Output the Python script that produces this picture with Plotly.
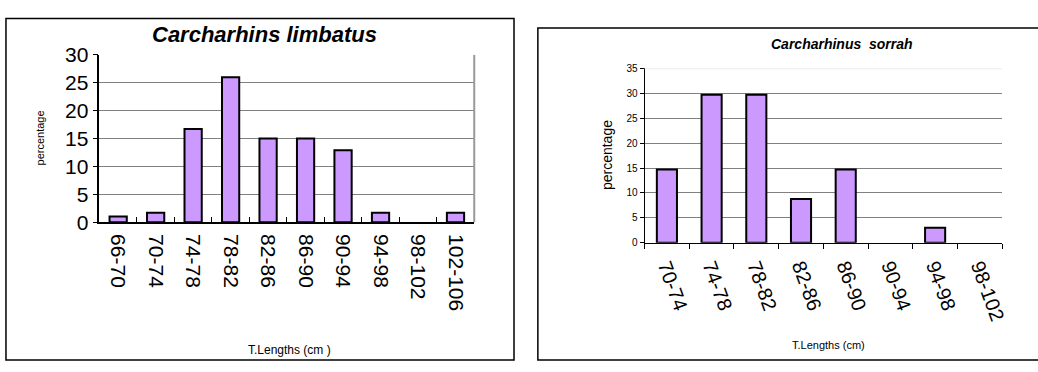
import plotly.graph_objects as go

# Length-frequency distributions (percentage per total-length class)
limbatus_classes = ["66-70", "70-74", "74-78", "78-82", "82-86",
                    "86-90", "90-94", "94-98", "98-102", "102-106"]
limbatus_pct = [1.0, 1.7, 16.7, 26.0, 15.0, 15.0, 12.9, 1.7, 0.0, 1.7]

sorrah_classes = ["70-74", "74-78", "78-82", "82-86",
                  "86-90", "90-94", "94-98", "98-102"]
sorrah_pct = [14.7, 29.7, 29.7, 8.8, 14.7, 0.0, 3.0, 0.0]

W, H = 1038, 372
FONT = "Liberation Sans, Arial, sans-serif"
BAR_FILL = "#CC99FF"


def px(x):
    return x / W


def py(y):
    return 1 - y / H


def outline_widths(values, w=2):
    # empty classes get no outline so no stray line sits on the axis
    return [w if v > 0 else 0 for v in values]


fig = go.Figure()

fig.add_trace(go.Bar(
    x=limbatus_classes, y=limbatus_pct, xaxis="x", yaxis="y",
    marker=dict(color=BAR_FILL,
                line=dict(color="black", width=outline_widths(limbatus_pct))),
    width=0.46, showlegend=False, hoverinfo="x+y",
))
fig.add_trace(go.Bar(
    x=sorrah_classes, y=sorrah_pct, xaxis="x2", yaxis="y2",
    marker=dict(color=BAR_FILL,
                line=dict(color="black", width=outline_widths(sorrah_pct))),
    width=0.45, showlegend=False, hoverinfo="x+y",
))

fig.update_layout(
    width=W, height=H,
    margin=dict(l=0, r=0, t=0, b=0),
    paper_bgcolor="white", plot_bgcolor="white",
    font=dict(family=FONT, color="black"),
    xaxis=dict(
        domain=[px(100), px(477)], anchor="y",
        type="category", tickangle=90,
        tickfont=dict(size=21), ticklabelstandoff=6,
        showline=True, linecolor="black", linewidth=1.5,
        ticks="inside", tickson="boundaries", ticklen=5,
        tickcolor="black", tickwidth=1,
        showgrid=False, fixedrange=True,
    ),
    yaxis=dict(
        domain=[py(224), py(45.7)], anchor="x",
        range=[0, 30], dtick=5, tickfont=dict(size=21),
        showline=True, linecolor="black", linewidth=1.5,
        ticks="outside", ticklen=5, tickcolor="black",
        showgrid=True, gridcolor="#808080", gridwidth=1,
        zeroline=False, fixedrange=True,
    ),
    xaxis2=dict(
        domain=[px(648.3), px(1008)], anchor="y2",
        type="category", tickangle=70,
        tickfont=dict(size=20), ticklabelstandoff=3,
        showline=True, linecolor="black", linewidth=1,
        ticks="outside", tickson="boundaries", ticklen=5,
        tickcolor="black", tickwidth=1,
        showgrid=False, fixedrange=True,
    ),
    yaxis2=dict(
        domain=[py(246), py(60)], anchor="x2",
        range=[0, 35], dtick=5, tickfont=dict(size=10),
        showline=True, linecolor="black", linewidth=1,
        ticks="outside", ticklen=4, tickcolor="black",
        showgrid=True, gridcolor="#808080", gridwidth=1.2,
        zeroline=False, fixedrange=True,
    ),
    bargap=0.5,
)

shapes = [
    # outer chart frames
    dict(type="rect", xref="paper", yref="paper",
         x0=px(6), x1=px(517), y0=py(371), y1=py(7),
         line=dict(color="black", width=1.5), layer="below"),
    dict(type="rect", xref="paper", yref="paper",
         x0=px(541), x1=px(1045), y0=py(371), y1=py(17),
         line=dict(color="black", width=1.5), layer="below"),
    # right edge of the first plot area
    dict(type="line", xref="paper", yref="paper",
         x0=px(477), x1=px(477), y0=py(224), y1=py(45.7),
         line=dict(color="#999999", width=2)),
    # faint top gridline of the second plot area
    dict(type="line", xref="x2 domain", yref="y2",
         x0=0, x1=1, y0=35, y1=35,
         line=dict(color="#EBEBEB", width=2)),
]
fig.update_layout(shapes=shapes)

annotations = [
    dict(text="<b><i>Carcharhins limbatus</i></b>", x=px(266), y=py(24.5),
         font=dict(size=22)),
    dict(text="percentage", x=px(40), y=py(134), textangle=-90,
         font=dict(size=11)),
    dict(text="T.Lengths (cm )", x=px(291), y=py(360),
         font=dict(size=12)),
    dict(text="<b><i>Carcharhinus\u00a0\u00a0sorrah</i></b>", x=px(847), y=py(34),
         font=dict(size=14)),
    dict(text="percentage", x=px(610), y=py(152), textangle=-90,
         font=dict(size=14)),
    dict(text="T.Lengths (cm)", x=px(833), y=py(355),
         font=dict(size=11)),
]
for a in annotations:
    a.update(xref="paper", yref="paper", showarrow=False,
             xanchor="center", yanchor="middle")
fig.update_layout(annotations=annotations)

fig.write_html("out.html")
